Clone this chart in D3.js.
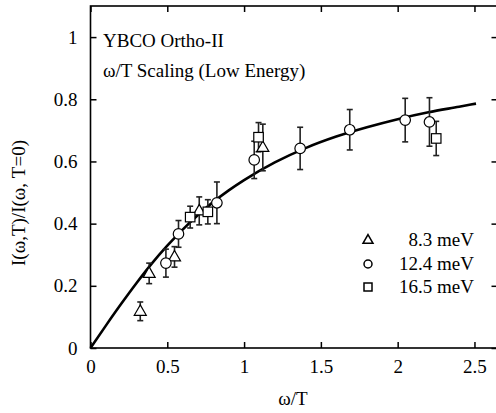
<!DOCTYPE html>
<html>
<head>
<meta charset="utf-8">
<script src="https://cdn.jsdelivr.net/npm/d3@7"></script>
<style>
  html, body { margin: 0; padding: 0; background: #fff; }
</style>
</head>
<body>
<svg id="chart" width="496" height="413" font-family="Liberation Serif" style="font-family:'Liberation Serif';font-size:19px"></svg>
<script>
// ω/T values, intensity ratios and error half-widths for each excitation energy
const tri_x   = [0.324, 0.382, 0.547, 0.708, 1.122];
const tri_y   = [0.118, 0.240, 0.293, 0.441, 0.645];
const tri_err = [0.030, 0.033, 0.033, 0.045, 0.075];

const circ_x   = [0.491, 0.573, 0.823, 1.066, 1.365, 1.688, 2.049, 2.207];
const circ_y   = [0.273, 0.367, 0.467, 0.605, 0.642, 0.702, 0.733, 0.727];
const circ_err = [0.045, 0.043, 0.067, 0.060, 0.068, 0.065, 0.070, 0.078];

const sq_x   = [0.649, 0.764, 1.094, 2.251];
const sq_y   = [0.421, 0.438, 0.678, 0.674];
const sq_err = [0.035, 0.039, 0.047, 0.055];

// scaling curve
const curve_x = [0, 0.1, 0.2, 0.3, 0.4, 0.5, 0.6, 0.7, 0.8, 0.9, 1.0, 1.2, 1.4, 1.6, 1.8, 2.0, 2.2, 2.4, 2.51];
const curve_y = [0, 0.072, 0.142, 0.209, 0.272, 0.329, 0.381, 0.428, 0.470, 0.507, 0.540, 0.597, 0.643, 0.680, 0.710, 0.736, 0.758, 0.776, 0.786];

const xTicks = [0, 0.5, 1, 1.5, 2, 2.5];
const yTicks = [0, 0.2, 0.4, 0.6, 0.8, 1];
const legendLabels = ["8.3 meV", "12.4 meV", "16.5 meV"];
const titleLines = ["YBCO Ortho-II", "\u03C9/T Scaling (Low Energy)"];

const svg = d3.select("#chart");
const x = d3.scaleLinear().domain([0, 2.65]).range([90.5, 497.5]);
const y = d3.scaleLinear().domain([0, 1.1]).range([348, 6]);
const fs = 19;

function serifText(sel) {
  return sel.attr("font-family", "Liberation Serif").attr("font-size", fs).attr("fill", "#000");
}

// frame
svg.append("rect")
  .attr("x", x(0)).attr("y", y(1.1))
  .attr("width", x(2.65) - x(0)).attr("height", y(0) - y(1.1))
  .attr("fill", "none").attr("stroke", "#000").attr("stroke-width", 1.6);

// axes with inward ticks; mirrored ticks on top and right
const tickLen = 6;
const axisB = d3.axisBottom(x).tickValues(xTicks).tickSizeInner(-tickLen).tickSizeOuter(0).tickPadding(12)
  .tickFormat(d3.format("~g"));
const axisT = d3.axisTop(x).tickValues(xTicks).tickSizeInner(-tickLen).tickSizeOuter(0).tickFormat("");
const axisL = d3.axisLeft(y).tickValues(yTicks).tickSizeInner(-tickLen).tickSizeOuter(0).tickPadding(13)
  .tickFormat(d3.format("~g"));
const axisR = d3.axisRight(y).tickValues(yTicks).tickSizeInner(-tickLen).tickSizeOuter(0).tickFormat("");

function styleAxis(g) {
  g.select(".domain").remove();
  g.attr("font-family", "Liberation Serif").attr("font-size", fs);
  g.selectAll(".tick line").attr("stroke", "#000").attr("stroke-width", 1.5);
  g.selectAll(".tick text").call(serifText);
}
svg.append("g").attr("transform", `translate(0,${y(0)})`).call(axisB).call(styleAxis);
svg.append("g").attr("transform", `translate(0,${y(1.1)})`).call(axisT).call(styleAxis);
svg.append("g").attr("transform", `translate(${x(0)},0)`).call(axisL).call(styleAxis);
svg.append("g").attr("transform", `translate(${x(2.65)},0)`).call(axisR).call(styleAxis);

// axis titles
svg.append("text")
  .attr("x", (x(0) + x(2.65)) / 2 - 1).attr("y", 405)
  .attr("text-anchor", "middle").call(serifText)
  .text("\u03C9/T");
svg.append("text")
  .attr("transform", `translate(25,${203}) rotate(-90)`)
  .attr("text-anchor", "middle").call(serifText)
  .text("I(\u03C9,T)/I(\u03C9, T=0)");

// title lines
svg.selectAll(".title").data(titleLines).join("text")
  .attr("class", "title")
  .attr("x", 103).attr("y", (d, i) => 47 + i * 30)
  .call(serifText)
  .text(d => d);

// scaling curve
const line = d3.line().x(d => x(d[0])).y(d => y(d[1])).curve(d3.curveMonotoneX);
svg.append("path")
  .datum(d3.zip(curve_x, curve_y))
  .attr("d", line)
  .attr("fill", "none").attr("stroke", "#000").attr("stroke-width", 2.6);

// marker shapes
function triPath(s) {
  const h = s * 0.87;
  return `M0,${-h * 0.62}L${s / 2},${h * 0.38}L${-s / 2},${h * 0.38}Z`;
}
function drawMarker(g, kind, size) {
  if (kind === "tri") {
    g.append("path").attr("d", triPath(size));
  } else if (kind === "circ") {
    g.append("circle").attr("r", size / 2);
  } else {
    g.append("rect").attr("x", -size / 2).attr("y", -size / 2).attr("width", size).attr("height", size);
  }
}

const seriesList = [
  { kind: "tri",  xs: tri_x,  ys: tri_y,  es: tri_err,  size: 12 },
  { kind: "circ", xs: circ_x, ys: circ_y, es: circ_err, size: 10.5 },
  { kind: "sq",   xs: sq_x,   ys: sq_y,   es: sq_err,   size: 9.5 }
];

const capW = 3;
seriesList.forEach(s => {
  const pts = d3.zip(s.xs, s.ys, s.es);
  const eb = svg.append("g").attr("stroke", "#222").attr("stroke-width", 1.6).attr("fill", "none");
  pts.forEach(([px, py, pe]) => {
    const cx = x(px);
    eb.append("line").attr("x1", cx).attr("x2", cx).attr("y1", y(py + pe)).attr("y2", y(py - pe));
    eb.append("line").attr("x1", cx - capW).attr("x2", cx + capW).attr("y1", y(py + pe)).attr("y2", y(py + pe));
    eb.append("line").attr("x1", cx - capW).attr("x2", cx + capW).attr("y1", y(py - pe)).attr("y2", y(py - pe));
  });
});
seriesList.forEach(s => {
  const pts = d3.zip(s.xs, s.ys);
  pts.forEach(([px, py]) => {
    const g = svg.append("g")
      .attr("transform", `translate(${x(px)},${y(py)})`)
      .attr("fill", "#fff").attr("stroke", "#000").attr("stroke-width", 1.2);
    drawMarker(g, s.kind, s.size);
  });
});

// legend
const legendY = [240, 264, 287];
seriesList.forEach((s, i) => {
  const g = svg.append("g")
    .attr("transform", `translate(368,${legendY[i]})`)
    .attr("fill", "#fff").attr("stroke", "#000").attr("stroke-width", 1.5);
  drawMarker(g, s.kind, s.kind === "tri" ? 10 : 8);
  svg.append("text")
    .attr("x", 474).attr("y", legendY[i] + 6)
    .attr("text-anchor", "end").call(serifText)
    .text(legendLabels[i]);
});
</script>
</body>
</html>
